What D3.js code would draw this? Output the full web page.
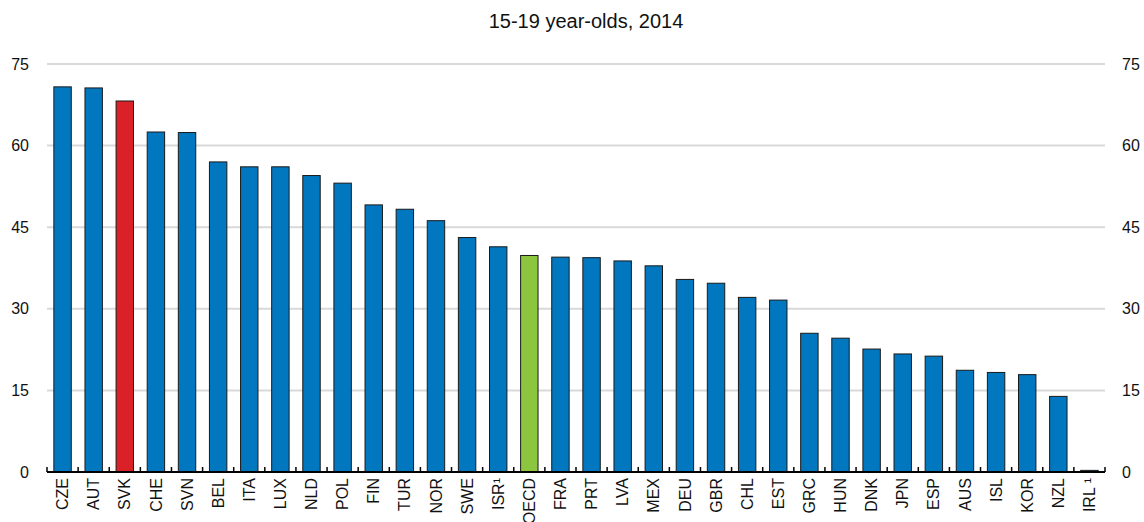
<!DOCTYPE html>
<html>
<head>
<meta charset="utf-8">
<script src="https://cdnjs.cloudflare.com/ajax/libs/d3/7.8.5/d3.min.js"></script>
<style>
  body { margin: 0; background: #fff; }
  svg { display: block; font-family: "Liberation Sans", Arial, sans-serif; }
</style>
</head>
<body>
<svg id="chart" width="1144" height="522"></svg>
<script>
// chart data
var countries = ['CZE','AUT','SVK','CHE','SVN','BEL','ITA','LUX','NLD','POL','FIN','TUR','NOR','SWE','ISR\u00b9','OECD',
  'FRA','PRT','LVA','MEX','DEU','GBR','CHL','EST','GRC','HUN','DNK','JPN','ESP','AUS','ISL','KOR','NZL','IRL \u00b9'];
var values = [70.8, 70.6, 68.2, 62.5, 62.4, 57.0, 56.1, 56.1, 54.5, 53.1, 49.1, 48.3, 46.2, 43.1, 41.4, 39.8,
  39.5, 39.4, 38.8, 37.9, 35.4, 34.7, 32.1, 31.6, 25.5, 24.6, 22.6, 21.7, 21.3, 18.7, 18.3, 17.9, 13.9, 0.3];
var yTicks = [0, 15, 30, 45, 60, 75];
var title = '15-19 year-olds, 2014';

var svg = d3.select('#chart');
var plotLeft = 47, plotRight = 1105, plotTop = 64, plotBottom = 472;

var x = d3.scaleBand().domain(countries).range([plotLeft, plotRight]).paddingInner(0.44).paddingOuter(0.22);
var y = d3.scaleLinear().domain([0, 75]).range([plotBottom, plotTop]);

// gridlines
svg.append('g').selectAll('line')
  .data(yTicks.filter(function(d){ return d > 0; }))
  .enter().append('line')
  .attr('x1', plotLeft).attr('x2', plotRight)
  .attr('y1', function(d){ return y(d); }).attr('y2', function(d){ return y(d); })
  .attr('stroke', '#d9d9d9').attr('stroke-width', 2);

// y labels both sides
svg.append('g').selectAll('text')
  .data(yTicks).enter().append('text')
  .attr('x', 29).attr('y', function(d){ return y(d); })
  .attr('dy', '0.35em').attr('text-anchor', 'end')
  .attr('font-size', 16).attr('fill', '#111')
  .text(function(d){ return d; });
svg.append('g').selectAll('text')
  .data(yTicks).enter().append('text')
  .attr('x', 1122).attr('y', function(d){ return y(d); })
  .attr('dy', '0.35em').attr('text-anchor', 'start')
  .attr('font-size', 16).attr('fill', '#111')
  .text(function(d){ return d; });

// bars
function barColor(c) {
  if (c == 'SVK') return '#da2128';
  if (c == 'OECD') return '#8cc63f';
  return '#0077bf';
}
svg.append('g').selectAll('rect')
  .data(countries).enter().append('rect')
  .attr('x', function(d){ return x(d); })
  .attr('width', x.bandwidth())
  .attr('y', function(d, i){ return y(values[i]); })
  .attr('height', function(d, i){ return y(0) - y(values[i]); })
  .attr('fill', function(d){ return barColor(d); })
  .attr('stroke', '#1a1a1a').attr('stroke-width', 1);

// x axis line and ticks between categories
svg.append('line')
  .attr('x1', plotLeft).attr('x2', plotRight)
  .attr('y1', plotBottom).attr('y2', plotBottom)
  .attr('stroke', '#000').attr('stroke-width', 2);
var step = x.step();
var bounds = d3.range(countries.length + 1).map(function(i){ return x(countries[0]) - x.paddingInner()*step/2 + i*step; });
svg.append('g').selectAll('line')
  .data(bounds).enter().append('line')
  .attr('x1', function(d){ return d; }).attr('x2', function(d){ return d; })
  .attr('y1', plotBottom).attr('y2', plotBottom - 5)
  .attr('stroke', '#000').attr('stroke-width', 1.5);

// category labels, rotated
svg.append('g').selectAll('text')
  .data(countries).enter().append('text')
  .attr('transform', function(d){
    return 'translate(' + (x(d) + x.bandwidth()/2) + ',' + (plotBottom + 6) + ') rotate(-90)';
  })
  .attr('dy', '0.35em').attr('text-anchor', 'end')
  .attr('font-size', 16).attr('fill', '#111')
  .text(function(d){ return d; });

// title
svg.append('text')
  .attr('x', 586).attr('y', 28)
  .attr('text-anchor', 'middle').attr('font-size', 20).attr('fill', '#111')
  .text(title);
</script>
</body>
</html>
